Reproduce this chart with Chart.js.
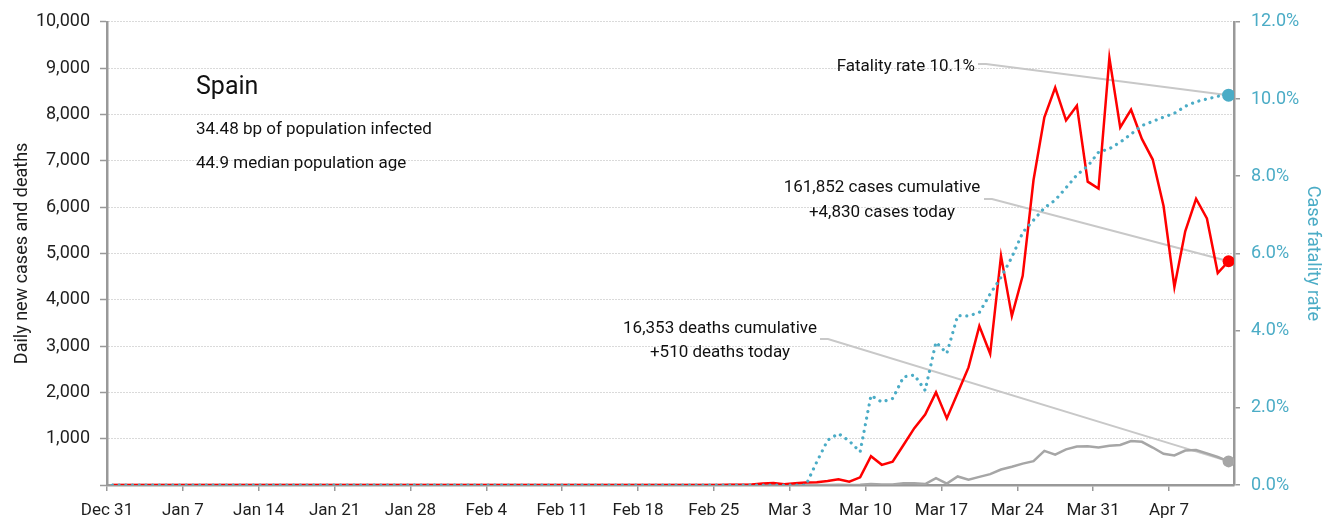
<!DOCTYPE html>
<html>
<head>
<meta charset="utf-8">
<script src="https://cdn.jsdelivr.net/npm/chart.js@4.4.1/dist/chart.umd.min.js"></script>
<style>
  html, body { margin: 0; padding: 0; background: #ffffff; }
  canvas { display: block; }
</style>
</head>
<body>
<canvas id="c" width="1336" height="524"></canvas>
<script>
// ---- Data (daily values from Dec 31 to Apr 12) ----
const tickLabels = ["Dec 31", "Jan 7", "Jan 14", "Jan 21", "Jan 28", "Feb 4", "Feb 11", "Feb 18",
  "Feb 25", "Mar 3", "Mar 10", "Mar 17", "Mar 24", "Mar 31", "Apr 7"];

const dailyCases = [
  0, 0, 0, 0, 0, 0, 0, 0, 0, 0,
  0, 0, 0, 0, 0, 0, 0, 0, 0, 0,
  0, 0, 0, 0, 0, 0, 0, 0, 0, 0,
  0, 0, 0, 0, 0, 0, 0, 0, 0, 0,
  0, 0, 0, 0, 0, 0, 0, 0, 0, 0,
  0, 0, 0, 0, 0, 0,
  2, 4, 5, 10, 30, 45, 15, 40, 55, 60, 85, 122, 70, 165,
  622, 435, 501, 864, 1227, 1522, 2000, 1438, 1987, 2538, 3431, 2833, 4946,
  3646, 4517, 6584, 7937, 8578, 7871, 8189, 6549, 6398, 9222, 7719, 8102,
  7472, 7026, 6023, 4273, 5478, 6180, 5756, 4576, 4830
];

const dailyDeaths = [
  0, 0, 0, 0, 0, 0, 0, 0, 0, 0,
  0, 0, 0, 0, 0, 0, 0, 0, 0, 0,
  0, 0, 0, 0, 0, 0, 0, 0, 0, 0,
  0, 0, 0, 0, 0, 0, 0, 0, 0, 0,
  0, 0, 0, 0, 0, 0, 0, 0, 0, 0,
  0, 0, 0, 0, 0, 0, 0, 0, 0, 0,
  0, 0, 0, 0,
  1, 1, 2, 3, 2, 8, 20, 10, 12, 37, 36, 20, 150, 30, 185, 115, 175, 235, 335,
  394, 462, 514, 738, 655, 769, 832, 838, 812, 849, 864, 950, 932, 809, 674,
  637, 743, 757, 683, 605, 510
];

const fatalityRate = [
  0, 0, 0, 0, 0, 0, 0, 0, 0, 0,
  0, 0, 0, 0, 0, 0, 0, 0, 0, 0,
  0, 0, 0, 0, 0, 0, 0, 0, 0, 0,
  0, 0, 0, 0, 0, 0, 0, 0, 0, 0,
  0, 0, 0, 0, 0, 0, 0, 0, 0, 0,
  0, 0, 0, 0, 0, 0, 0, 0, 0, 0,
  0, 0, 0, 0, 0,
  0.6, 1.16, 1.33, 1.14, 0.86, 2.32, 2.15, 2.24, 2.8, 2.85, 2.45, 3.70, 3.41,
  4.39, 4.38, 4.47, 4.95, 5.38,
  5.9, 6.54, 6.86, 7.18, 7.38, 7.70, 8.03, 8.26, 8.62, 8.71, 8.88, 9.09, 9.31,
  9.42, 9.53, 9.63, 9.81, 9.93, 10.0, 10.07, 10.10
];

const leftTicks = [0, 1000, 2000, 3000, 4000, 5000, 6000, 7000, 8000, 9000, 10000];
const rightTicks = [0, 2, 4, 6, 8, 10, 12];

const countryName = "Spain";
const infoLines = ["34.48 bp of population infected", "44.9 median population age"];
const fatalityText = "Fatality rate 10.1%";
const casesText = ["161,852 cases cumulative", "+4,830 cases today"];
const deathsText = ["16,353 deaths cumulative", "+510 deaths today"];

// ---- Styles ----
const FONT = "Roboto";
const RED = "#ff0000";
const GREY = "#a6a6a6";
const CYAN = "#4bacc6";
const AXIS = "#999999";
const TEXT = "#1e1e1e";

const toPoints = arr => arr.map((v, i) => ({ x: i + 0.5, y: v }));
const lastRadius = r => c => (c.dataIndex === c.dataset.data.length - 1 ? r : 0);

const annotations = {
  id: "annotations",
  beforeDatasetsDraw(chart) {
    const ctx = chart.ctx;
    const last = idx => { const d = chart.getDatasetMeta(idx).data; return d[d.length - 1]; };
    ctx.save();
    ctx.strokeStyle = "#c8c8c8";
    ctx.lineWidth = 2;
    const leader = (x0, y0, p) => {
      ctx.beginPath();
      ctx.moveTo(x0, y0);
      ctx.lineTo(x0 + 8, y0);
      ctx.lineTo(p.x, p.y);
      ctx.stroke();
    };
    leader(978, 64, last(0));
    leader(984, 199, last(1));
    leader(820, 339, last(2));
    ctx.restore();
  },
  afterDraw(chart) {
    const ctx = chart.ctx;
    ctx.save();
    ctx.fillStyle = "#111111";
    ctx.textBaseline = "middle";
    ctx.textAlign = "left";
    ctx.font = "25px " + FONT;
    ctx.fillText(countryName, 196, 88);
    ctx.font = "17px " + FONT;
    ctx.fillText(infoLines[0], 196, 130);
    ctx.fillText(infoLines[1], 196, 164);
    ctx.textAlign = "right";
    ctx.fillText(fatalityText, 975, 67);
    ctx.textAlign = "center";
    ctx.fillText(casesText[0], 882, 188);
    ctx.fillText(casesText[1], 882, 213);
    ctx.fillText(deathsText[0], 720, 329);
    ctx.fillText(deathsText[1], 720, 353);
    ctx.restore();
  }
};

Chart.defaults.font.family = FONT;

new Chart(document.getElementById("c"), {
  type: "line",
  data: {
    datasets: [
      {
        label: "Case fatality rate",
        data: toPoints(fatalityRate),
        yAxisID: "y2",
        borderColor: CYAN,
        backgroundColor: CYAN,
        borderWidth: 3.2,
        borderDash: [0.01, 6.7],
        borderCapStyle: "round",
        pointRadius: lastRadius(6.5),
        pointBackgroundColor: CYAN,
        pointBorderWidth: 0,
        tension: 0,
        fill: false
      },
      {
        label: "Daily new cases",
        data: toPoints(dailyCases),
        yAxisID: "y",
        borderColor: RED,
        backgroundColor: RED,
        borderWidth: 2.5,
        pointRadius: lastRadius(6),
        pointBackgroundColor: RED,
        pointBorderWidth: 0,
        tension: 0,
        fill: false
      },
      {
        label: "Daily new deaths",
        data: toPoints(dailyDeaths),
        yAxisID: "y",
        borderColor: GREY,
        backgroundColor: GREY,
        borderWidth: 2.5,
        pointRadius: lastRadius(6),
        pointBackgroundColor: GREY,
        pointBorderWidth: 0,
        tension: 0,
        fill: false
      }
    ]
  },
  options: {
    responsive: false,
    animation: false,
    events: [],
    layout: { padding: { top: 20, left: 0, right: 0, bottom: 0 } },
    plugins: { legend: { display: false }, tooltip: { enabled: false } },
    scales: {
      x: {
        type: "linear",
        min: 0,
        max: 104,
        afterBuildTicks: s => { s.ticks = tickLabels.map((_, i) => ({ value: i * 7 })); },
        afterFit: s => { s.height = 39; },
        ticks: {
          autoSkip: false,
          maxRotation: 0,
          padding: 10,
          color: TEXT,
          font: { size: 17 },
          callback: v => tickLabels[Math.round(v / 7)] ?? ""
        },
        grid: { drawOnChartArea: false, drawTicks: true, tickLength: 6, color: AXIS, lineWidth: 1.5 },
        border: { color: AXIS, width: 2.5 }
      },
      y: {
        position: "left",
        min: 0,
        max: 10000,
        afterBuildTicks: s => { s.ticks = leftTicks.map(v => ({ value: v })); },
        afterFit: s => { s.width = 107; },
        ticks: {
          padding: 10,
          color: TEXT,
          font: { size: 18 },
          callback: v => (v === 0 ? "" : v.toLocaleString("en-US"))
        },
        grid: {
          drawOnChartArea: true,
          drawTicks: true,
          tickLength: 7,
          color: "#b4b4b4",
          lineWidth: 1,
          tickColor: AXIS,
          tickWidth: 1.5,
          tickBorderDash: []
        },
        border: { color: AXIS, width: 2.5, dash: [1, 2] },
        title: {
          display: true,
          text: "Daily new cases and deaths",
          color: TEXT,
          font: { size: 18 },
          padding: { top: 12, bottom: 0 }
        }
      },
      y2: {
        position: "right",
        min: 0,
        max: 12,
        afterBuildTicks: s => { s.ticks = rightTicks.map(v => ({ value: v })); },
        afterFit: s => { s.width = 102; },
        ticks: {
          padding: 11,
          color: CYAN,
          font: { size: 18 },
          callback: v => v.toFixed(1) + "%"
        },
        grid: { drawOnChartArea: false, drawTicks: true, tickLength: 6, color: AXIS, lineWidth: 1.5 },
        border: { color: AXIS, width: 2.5 },
        title: {
          display: true,
          text: "Case fatality rate",
          color: CYAN,
          font: { size: 18 },
          padding: { top: 13, bottom: 0 }
        }
      }
    }
  },
  plugins: [annotations]
});
</script>
</body>
</html>
